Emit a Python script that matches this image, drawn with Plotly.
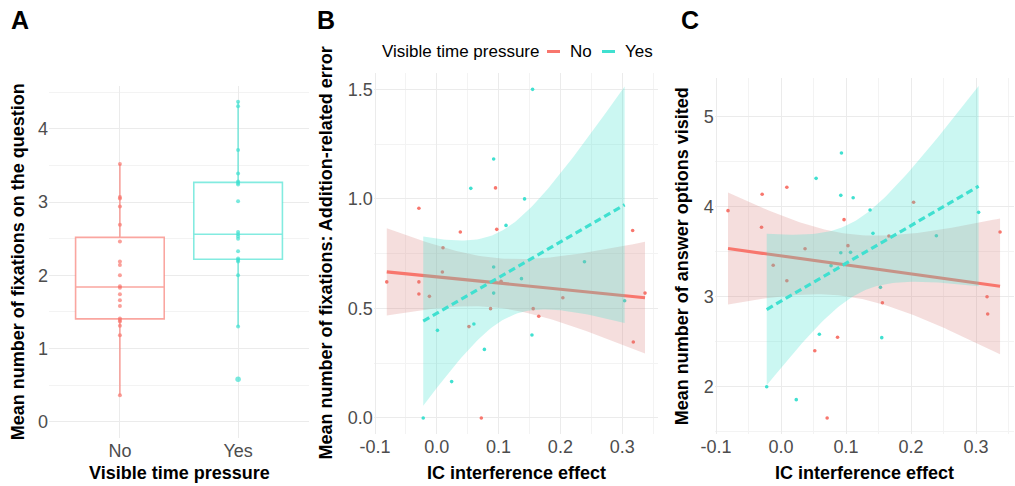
import numpy as np
import plotly.graph_objects as go

# ---------------- data ----------------
groups = ["No", "Yes"]

# Panel A: mean number of fixations on the question
a_no = [3.52, 3.07, 3.05, 2.94, 2.69, 2.46, 2.19, 2.14, 2.00, 1.85, 1.83, 1.74,
        1.66, 1.58, 1.41, 1.39, 1.37, 1.31, 1.18, 0.36]
a_yes = [4.37, 4.31, 3.71, 3.39, 3.28, 3.26, 3.24, 3.01, 2.59, 2.56, 2.53, 2.50,
         2.33, 2.23, 2.21, 2.19, 2.00, 1.30, 0.58]

# Panel B: IC interference effect vs fixations on addition-related error
b_no_x = [-0.081, -0.029, -0.029, -0.029, -0.012, 0.010, 0.009, 0.038, 0.052, 0.072,
          0.087, 0.095, 0.097, 0.104, 0.156, 0.165, 0.204, 0.317, 0.318, 0.337]
b_no_y = [0.621, 0.957, 0.621, 0.566, 0.555, 0.777, 0.666, 0.849, 0.417, 0.000,
          0.499, 1.050, 0.861, 0.624, 0.499, 0.464, 0.549, 0.856, 0.347, 0.570]
b_yes_x = [-0.022, 0.001, 0.024, 0.055, 0.060, 0.077, 0.092, 0.092, 0.092, 0.112,
           0.137, 0.142, 0.154, 0.155, 0.239, 0.304]
b_yes_y = [0.000, 0.400, 0.166, 1.048, 0.429, 0.313, 1.182, 0.689, 0.570, 0.879,
           0.636, 1.000, 0.379, 1.500, 0.713, 0.535]

# Panel C: IC interference effect vs answer options visited
c_no_x = [-0.0815, -0.029, -0.030, -0.012, 0.009, 0.009, 0.037, 0.052, 0.071, 0.087,
          0.097, 0.103, 0.156, 0.166, 0.204, 0.317, 0.318, 0.337]
c_no_y = [3.956, 4.138, 3.771, 3.349, 4.216, 3.178, 3.533, 2.400, 1.652, 2.549,
          3.856, 3.567, 2.933, 3.674, 4.049, 3.000, 2.808, 3.719]
c_yes_x = [-0.022, 0.0235, 0.054, 0.059, 0.077, 0.093, 0.092, 0.092, 0.107, 0.111,
           0.137, 0.1415, 0.153, 0.155, 0.239, 0.304]
c_yes_y = [2.000, 1.856, 4.315, 2.582, 3.345, 4.597, 4.126, 3.489, 3.493, 4.100,
           3.963, 3.704, 3.104, 2.545, 3.678, 3.937]

ic_ticks = [-0.1, 0.0, 0.1, 0.2, 0.3]
ic_ticktext = ["-0.1", "0.0", "0.1", "0.2", "0.3"]
b_yticks = [0.0, 0.5, 1.0, 1.5]
b_yticktext = ["0.0", "0.5", "1.0", "1.5"]
c_yticks = [2, 3, 4, 5]
a_yticks = [0, 1, 2, 3, 4]

# ---------------- style ----------------
RED = "#F8766D"
TEAL = "#40E0D0"
RIBBON = {RED: "rgba(215,125,120,0.25)", TEAL: "rgba(64,224,208,0.27)"}
def rgba(hexc, a):
    h = hexc.lstrip("#")
    return "rgba(%d,%d,%d,%.3f)" % (int(h[0:2], 16), int(h[2:4], 16), int(h[4:6], 16), a)

FONT = "Liberation Sans, Arial, Helvetica, sans-serif"
W, H = 1015, 486
def px(x):
    return x / W
def py(y):
    return 1 - y / H

def t975(df):
    z = 1.959963985
    g1 = (z**3 + z) / 4
    g2 = (5*z**5 + 16*z**3 + 3*z) / 96
    g3 = (3*z**7 + 19*z**5 + 17*z**3 - 15*z) / 384
    g4 = (79*z**9 + 776*z**7 + 1482*z**5 - 1920*z**3 - 945*z) / 92160
    return z + g1/df + g2/df**2 + g3/df**3 + g4/df**4

def lm_band(xs, ys, n=80):
    x = np.asarray(xs, float); y = np.asarray(ys, float)
    N = len(x)
    b, a = np.polyfit(x, y, 1)
    res = y - (a + b*x)
    s = np.sqrt(np.sum(res**2) / (N - 2))
    xbar = x.mean(); sxx = np.sum((x - xbar)**2)
    xg = np.linspace(x.min(), x.max(), n)
    fit = a + b*xg
    se = s * np.sqrt(1/N + (xg - xbar)**2 / sxx)
    t = t975(N - 2)
    return xg, fit, fit - t*se, fit + t*se

def box_stats(v):
    v = np.asarray(v, float)
    q1, med, q3 = np.percentile(v, [25, 50, 75])
    iqr = q3 - q1
    lo = v[v >= q1 - 1.5*iqr].min()
    hi = v[v <= q3 + 1.5*iqr].max()
    out = (v < lo) | (v > hi)
    return q1, med, q3, lo, hi, out

fig = go.Figure()

# ---------------- Panel A ----------------
for i, (vals, col) in enumerate([(a_no, RED), (a_yes, TEAL)]):
    q1, med, q3, lo, hi, out = box_stats(vals)
    xpos = i + 1
    fig.add_trace(go.Box(
        x=[xpos], q1=[q1], median=[med], q3=[q3], lowerfence=[lo], upperfence=[hi],
        width=0.75, whiskerwidth=0, boxpoints=False,
        line=dict(color=rgba(col, 0.65), width=1.6), fillcolor="white",
        xaxis="x", yaxis="y", showlegend=False, hoverinfo="skip"))
    sizes = [5.5 if o else 4 for o in out]
    fig.add_trace(go.Scatter(
        x=[xpos]*len(vals), y=vals, mode="markers",
        marker=dict(color=col, size=sizes, line=dict(width=0)),
        xaxis="x", yaxis="y", showlegend=False, hoverinfo="skip"))

# ---------------- Panels B & C ----------------
def scatter_panel(xa, ya, no_x, no_y, yes_x, yes_y):
    for xs, ys, col in [(no_x, no_y, RED), (yes_x, yes_y, TEAL)]:
        fig.add_trace(go.Scatter(x=xs, y=ys, mode="markers",
                                 marker=dict(color=col, size=3.6, line=dict(width=0)),
                                 xaxis=xa, yaxis=ya, showlegend=False, hoverinfo="skip"))
    for xs, ys, col, dash in [(no_x, no_y, RED, "solid"), (yes_x, yes_y, TEAL, "7px,4px")]:
        xg, fit, lo, hi = lm_band(xs, ys)
        fig.add_trace(go.Scatter(
            x=np.concatenate([xg, xg[::-1]]), y=np.concatenate([hi, lo[::-1]]),
            mode="lines", fill="toself", fillcolor=RIBBON[col],
            line=dict(width=0), xaxis=xa, yaxis=ya, showlegend=False, hoverinfo="skip"))
        fig.add_trace(go.Scatter(x=xg, y=fit, mode="lines",
                                 line=dict(color=col, width=3.2, dash=dash),
                                 xaxis=xa, yaxis=ya, showlegend=False, hoverinfo="skip"))

scatter_panel("x2", "y2", b_no_x, b_no_y, b_yes_x, b_yes_y)
scatter_panel("x3", "y3", c_no_x, c_no_y, c_yes_x, c_yes_y)

# ---------------- axes ----------------
GRID = "#EBEBEB"
MINOR = "#F3F3F3"
TICKFONT = dict(family=FONT, size=18, color="#4D4D4D")

def mids(t):
    return [(t[i] + t[i+1]) / 2 for i in range(len(t) - 1)]

common = dict(showline=False, zeroline=False, ticks="", showgrid=True, gridcolor=GRID,
              gridwidth=1, tickfont=TICKFONT, automargin=False)

ic_minor = mids(ic_ticks) + [0.35]

fig.update_layout(
    width=W, height=H, margin=dict(l=0, r=0, t=0, b=0, pad=0, autoexpand=False),
    paper_bgcolor="white", plot_bgcolor="white", showlegend=False,
    xaxis=dict(domain=[px(49), px(309)], range=[0.4, 2.6], tickmode="array",
               tickvals=[1, 2], ticktext=groups, anchor="y", **common),
    yaxis=dict(domain=[py(437.8), py(85.7)], range=[-0.22, 4.59], tickmode="array",
               tickvals=a_yticks, ticktext=[str(v) for v in a_yticks], anchor="x",
               minor=dict(tickmode="array", tickvals=mids(a_yticks) + [4.5], showgrid=True,
                          gridcolor=MINOR, gridwidth=1, ticks=""), **common),
    xaxis2=dict(domain=[px(373.8), px(658)], range=[-0.102, 0.358], tickmode="array",
                tickvals=ic_ticks, ticktext=ic_ticktext, anchor="y2",
                minor=dict(tickmode="array", tickvals=ic_minor, showgrid=True,
                           gridcolor=MINOR, gridwidth=1, ticks=""), **common),
    yaxis2=dict(domain=[py(434.4), py(72.9)], range=[-0.075, 1.575], tickmode="array",
                tickvals=b_yticks, ticktext=b_yticktext, anchor="x2",
                minor=dict(tickmode="array", tickvals=mids(b_yticks), showgrid=True,
                           gridcolor=MINOR, gridwidth=1, ticks=""), **common),
    xaxis3=dict(domain=[px(714.7), px(1013.7)], range=[-0.102, 0.358], tickmode="array",
                tickvals=ic_ticks, ticktext=ic_ticktext, anchor="y3",
                minor=dict(tickmode="array", tickvals=ic_minor, showgrid=True,
                           gridcolor=MINOR, gridwidth=1, ticks=""), **common),
    yaxis3=dict(domain=[py(434.4), py(78)], range=[1.47, 5.43], tickmode="array",
                tickvals=c_yticks, ticktext=[str(v) for v in c_yticks], anchor="x3",
                minor=dict(tickmode="array", tickvals=[1.5] + mids(c_yticks), showgrid=True,
                           gridcolor=MINOR, gridwidth=1, ticks=""), **common),
)

# ---------------- text ----------------
def ann(text, x, y, size=18, angle=0, xanchor="center", bold=True, color="black"):
    fig.add_annotation(text=("<b>%s</b>" % text) if bold else text,
                       x=px(x), y=py(y), xref="paper", yref="paper",
                       showarrow=False, textangle=angle, xanchor=xanchor, yanchor="middle",
                       font=dict(family=FONT, size=size, color=color))

# panel letters
ann("A", 20, 20, size=25)
ann("B", 326, 20, size=25)
ann("C", 690, 20, size=25)

# x titles
ann("Visible time pressure", 179, 472.5)
ann("IC interference effect", 516, 473)
ann("IC interference effect", 864, 473)

# y titles
ann("Mean number of fixations on the question", 17.5, 261.8, angle=-90)
ann("Mean number of fixations: Addition-related error", 326, 253.6, angle=-90)
ann("Mean number of answer options visited", 682, 256.2, angle=-90)

# legend (panel B)
ann("Visible time pressure", 380, 51.5, size=17, xanchor="left", bold=False)
ann(groups[0], 568, 51.5, size=17, xanchor="left", bold=False)
ann(groups[1], 623, 51.5, size=17, xanchor="left", bold=False)
for (x0, x1), col in [((547, 560), RED), ((602, 615), TEAL)]:
    fig.add_shape(type="line", xref="paper", yref="paper", x0=px(x0), x1=px(x1),
                  y0=py(51.5), y1=py(51.5), line=dict(color=col, width=3))

fig.write_html("out.html", config={"responsive": False, "displayModeBar": False},
               post_script="document.body.style.margin='0';document.body.style.padding='0';"
                           "document.body.style.overflow='hidden';")
